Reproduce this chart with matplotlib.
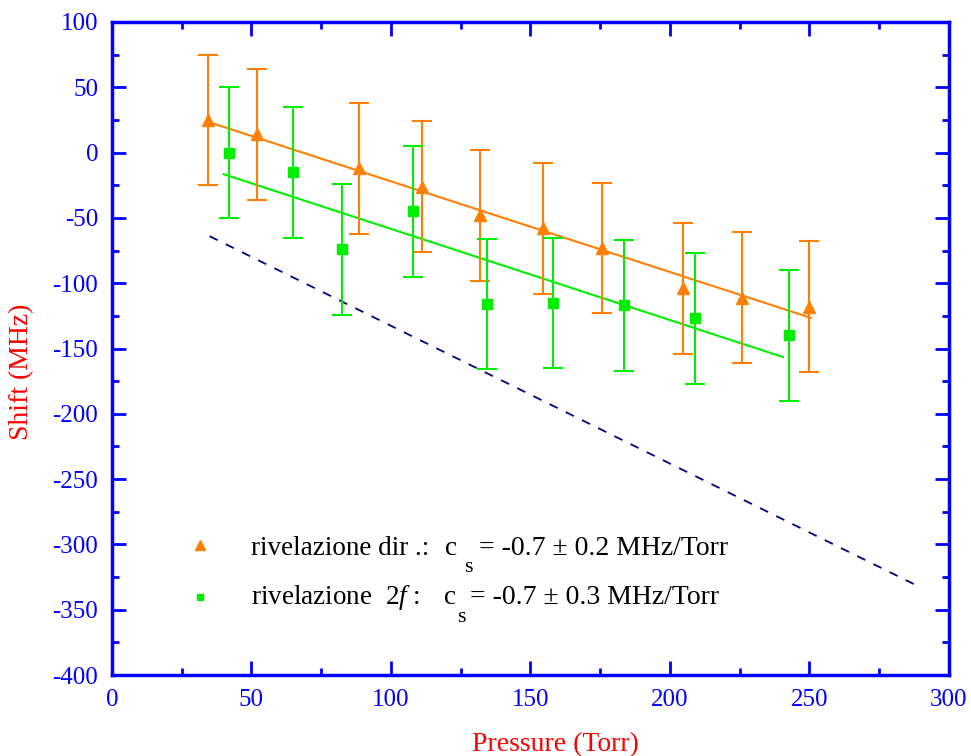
"""Pressure shift of the line: direct and 2f detection with linear fits."""

import matplotlib

matplotlib.use("Agg")
import matplotlib.pyplot as plt
from matplotlib.ticker import MultipleLocator

# direct detection (orange triangles)
p_dir = [34.5, 52, 88.5, 111, 132, 154.5, 175.5, 204.5, 226, 250]
shift_dir = [25, 14, -12, -26, -48, -58, -73, -104, -111, -118]
err_dir = [50, 50, 50, 50, 50, 50, 50, 50, 50, 50]

# 2f detection (green squares)
p_2f = [42, 65, 82.5, 108, 134.5, 158, 183.5, 209, 242.5]
shift_2f = [0, -15, -74, -45, -116, -115, -117, -127, -140]
err_2f = [50, 50, 50, 50, 50, 50, 50, 50, 50]

# fit lines (end points)
fit_dir_x = [34.5, 250.5]
fit_dir_y = [23.5, -126.5]
fit_2f_x = [40, 240.5]
fit_2f_y = [-16.5, -156.5]
ref_x = [35, 289]
ref_y = [-64, -332]

legend_dir = "rivelazione dir .:"
legend_2f = r"rivelazione  2$\mathit{f}$ :"
value_dir = "= -0.7 ± 0.2 MHz/Torr"
value_2f = "= -0.7 ± 0.3 MHz/Torr"

ORANGE = "#ff8000"
GREEN = "#00ee00"
BLUE = "#0000ff"
NAVY = "#000080"

plt.rcParams["font.family"] = ["Liberation Serif", "DejaVu Serif"]
plt.rcParams["mathtext.fontset"] = "custom"
plt.rcParams["mathtext.rm"] = "Liberation Serif"
plt.rcParams["mathtext.it"] = "Liberation Serif:italic"
plt.rcParams["axes.unicode_minus"] = False

fig = plt.figure(figsize=(9.71, 7.56), dpi=100)
ax = fig.add_axes([0.1153, 0.1071, 0.862, 0.8638])

ax.errorbar(p_dir, shift_dir, yerr=err_dir, fmt="^", color=ORANGE, ms=9,
            capsize=7, capthick=1.5, elinewidth=1.5, zorder=3)
ax.errorbar(p_2f, shift_2f, yerr=err_2f, fmt="s", color=GREEN, ms=6.5,
            capsize=7, capthick=1.5, elinewidth=1.5, zorder=3)
ax.plot(fit_dir_x, fit_dir_y, color=ORANGE, lw=1.5)
ax.plot(fit_2f_x, fit_2f_y, color=GREEN, lw=1.5)
ax.plot(ref_x, ref_y, color=NAVY, lw=1.3, ls=(0, (5, 5)))

# legend drawn by hand so the subscript s sits low like the original
ax.plot([31.6], [-300.5], "^", color=ORANGE, ms=7)
ax.plot([31.6], [-340], "s", color=GREEN, ms=5)
fs = 19.5
ax.text(49.8, -302.8, legend_dir, fontsize=fs, va="center")
ax.text(119.4, -302.8, "c", fontsize=fs, va="center")
ax.text(126.3, -318, "s", fontsize=16, va="center")
ax.text(131.6, -302.8, value_dir, fontsize=20, va="center")
ax.text(49.8, -341, legend_2f, fontsize=fs, va="center")
ax.text(119.0, -341, "c", fontsize=fs, va="center")
ax.text(123.6, -356, "s", fontsize=16, va="center")
ax.text(128.4, -341, value_2f, fontsize=20, va="center")

ax.set_xlim(0, 300)
ax.set_ylim(-400, 100)
ax.xaxis.set_major_locator(MultipleLocator(50))
ax.xaxis.set_minor_locator(MultipleLocator(25))
ax.yaxis.set_major_locator(MultipleLocator(50))
ax.yaxis.set_minor_locator(MultipleLocator(25))
ax.tick_params(which="both", direction="in", top=True, right=True,
               color=BLUE, width=2, labelcolor=BLUE, labelsize=18, pad=10)
ax.tick_params(which="major", length=10)
ax.tick_params(which="minor", length=5)
for spine in ax.spines.values():
    spine.set_color(BLUE)
    spine.set_linewidth(2.5)

ax.set_xlabel("Pressure (Torr)", color="red", fontsize=20)
ax.set_ylabel("Shift (MHz)", color="red", fontsize=20)
ax.xaxis.set_label_coords(0.53, -0.087)
ax.yaxis.set_label_coords(-0.093, 0.465)

fig.savefig("out.png", dpi=100)
